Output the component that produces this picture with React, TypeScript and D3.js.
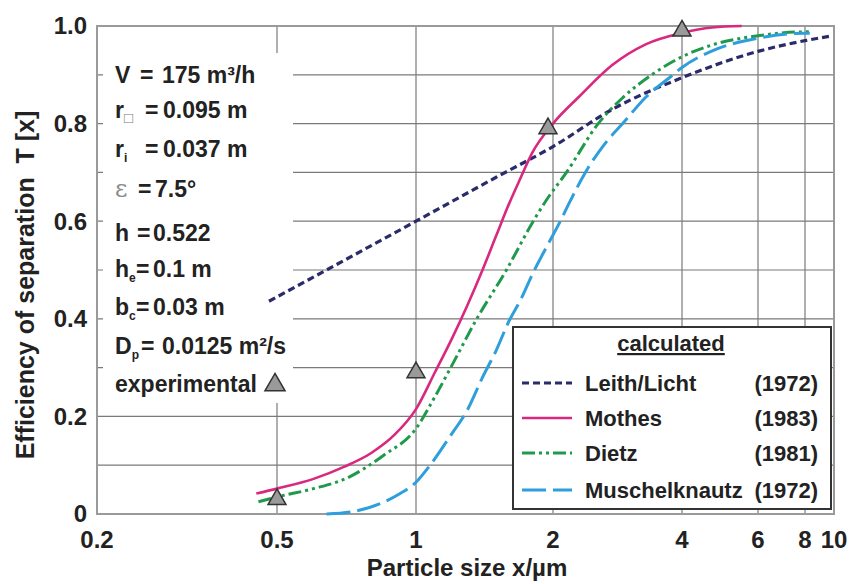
import React from 'react';
import * as d3 from 'd3';

// axis ticks
const xTicks = [0.2, 0.5, 1, 2, 4, 6, 8, 10];
const yTicks = [0, 0.2, 0.4, 0.6, 0.8, 1.0];

// calculated curves, [particle size µm, T]
const leithLicht = [
  [0.48, 0.436], [0.7, 0.52], [1, 0.6], [1.5, 0.69], [2, 0.753], [2.76, 0.83],
  [4, 0.894], [6, 0.948], [8, 0.97], [9.9, 0.98],
];
const mothes = [
  [0.45, 0.042], [0.5, 0.052], [0.6, 0.072], [0.7, 0.097], [0.8, 0.125], [0.9, 0.163],
  [1.0, 0.215], [1.1, 0.29], [1.2, 0.36], [1.3, 0.43], [1.4, 0.5], [1.5, 0.57],
  [1.6, 0.635], [1.7, 0.69], [1.8, 0.74], [2.0, 0.8], [2.3, 0.855], [2.75, 0.92],
  [3.3, 0.963], [4.0, 0.986], [4.7, 0.997], [5.5, 1.0],
];
const dietz = [
  [0.455, 0.025], [0.5, 0.035], [0.6, 0.052], [0.71, 0.074], [0.85, 0.12], [1.0, 0.175],
  [1.1, 0.24], [1.2, 0.305], [1.36, 0.4], [1.58, 0.5], [1.81, 0.6], [1.94, 0.645],
  [2.15, 0.7], [2.55, 0.8], [2.9, 0.852], [3.4, 0.9], [4, 0.937], [4.73, 0.962],
  [6, 0.98], [8, 0.988], [8.3, 0.988],
];
const muschelknautz = [
  [0.64, 0.0], [0.72, 0.004], [0.85, 0.024], [0.92, 0.041], [1.0, 0.065], [1.07, 0.098],
  [1.19, 0.16], [1.3, 0.215], [1.4, 0.28], [1.5, 0.335], [1.6, 0.395], [1.7, 0.44],
  [1.81, 0.495], [1.93, 0.545], [2.08, 0.6], [2.19, 0.64], [2.38, 0.7], [2.65, 0.76],
  [2.94, 0.805], [3.3, 0.855], [3.75, 0.895], [4, 0.915], [4.73, 0.95], [6, 0.975],
  [8, 0.985], [8.3, 0.985],
];

// experimental points
const expX = [0.5, 1, 1.95, 4];
const expT = [0.03, 0.29, 0.79, 0.99];

// legend entries
const seriesNames = ['Leith/Licht', 'Mothes', 'Dietz', 'Muschelknautz'];
const seriesYears = ['(1972)', '(1983)', '(1981)', '(1972)'];

// operating conditions box
const condLabels = ['V', 'r', 'r', 'ε', 'h', 'h', 'b', 'D', 'experimental'];
const condSubs = ['', '□', 'i', '', '', 'e', 'c', 'p', ''];
const condValues = ['175 m³/h', '0.095 m', '0.037 m', '7.5°', '0.522', '0.1 m', '0.03 m', '0.0125 m²/s', ''];

const FONT = "'Liberation Sans', Arial, Helvetica, sans-serif";

export default function App() {
  const w = 850;
  const h = 584;

  const x = d3.scaleLog()
    .domain(xTicks)
    .range([97, 277, 416, 553, 682, 758, 805, 834]);
  const y = d3.scaleLinear().domain([0, 1]).range([514, 26]);

  const line = d3.line<number[]>()
    .x(d => x(d[0]))
    .y(d => y(d[1]))
    .curve(d3.curveMonotoneX);

  const styles = [
    { color: '#2b2a6b', dash: '7 4', width: 3.2 },
    { color: '#d9287f', dash: null, width: 2.6 },
    { color: '#1f9a4c', dash: '13 4 3 4 3 4', width: 3 },
    { color: '#2e9fdb', dash: '24 7', width: 3 },
  ];
  const data = [leithLicht, mothes, dietz, muschelknautz];

  const tri = d3.symbol(d3.symbolTriangle, 140)();
  const triBig = d3.symbol(d3.symbolTriangle, 175)();

  const x0 = x.range()[0];
  const x1 = x.range()[x.range().length - 1];
  const yGrid = y.ticks(10).filter(t => t > 0 && t < 1);
  const xGrid = xTicks.slice(1, -1);

  const baselines = [83, 118, 157, 197, 241, 277, 315, 354, 392];
  const eqX = [140, 145, 145, 138, 137, 136, 136, 141];
  const valX = [162, 163, 163, 155, 153, 153, 153, 162];

  const legendRows = [383, 418, 453, 490];

  return (
    <svg width={w} height={h} style={{ position: 'absolute', left: 0, top: 0, background: '#fff' }}
      fontFamily={FONT} fontWeight="bold">
      {/* grid */}
      <g stroke="#7a7a7a" strokeWidth={1.2}>
        {yGrid.map(t => (
          <line key={'gy' + t} x1={x0} x2={x1} y1={y(t)} y2={y(t)} />
        ))}
        {xGrid.map(t => (
          <line key={'gx' + t} x1={x(t)} x2={x(t)} y1={y(0)} y2={y(1)} />
        ))}
      </g>

      {/* white panel for conditions text */}
      <rect x={103} y={53} width={190} height={350} fill="#fff" />

      <rect x={x0} y={y(1)} width={x1 - x0} height={y(0) - y(1)} fill="none" stroke="#9a9a9a" strokeWidth={2} />

      {/* axis labels */}
      <g fontSize={24} fill="#222">
        {yTicks.map(t => (
          <text key={'yl' + t} x={87} y={y(t)} dy="0.35em" textAnchor="end">
            {t === 0 ? '0' : t.toFixed(1)}
          </text>
        ))}
        {xTicks.map(t => (
          <text key={'xl' + t} x={x(t)} y={548} textAnchor="middle">{String(t)}</text>
        ))}
      </g>
      <text x={467} y={576} fontSize={24} textAnchor="middle" fill="#222">Particle size x/µm</text>
      <text transform="translate(34,285) rotate(-90)" fontSize={25} textAnchor="middle" fill="#222"
        style={{ whiteSpace: 'pre' }}>Efficiency of separation  T [x]</text>

      {/* operating conditions */}
      <g fontSize={23} fill="#222">
        {condLabels.map((lab, i) => (
          <text key={'c' + i} x={115} y={baselines[i]}>
            {lab === 'ε'
              ? <tspan fontFamily="'DejaVu Serif', serif" fontWeight="normal" fill="#8a8a8a" fontSize={24}>{lab}</tspan>
              : <tspan>{lab}</tspan>}
            {condSubs[i] && (
              <tspan fontSize={condSubs[i] === '□' ? 15 : 12} dy={5}
                fill={condSubs[i] === '□' ? '#777' : '#222'}
                fontWeight={condSubs[i] === '□' ? 'normal' : 'bold'}>{condSubs[i]}</tspan>
            )}
            {i < eqX.length && <tspan x={eqX[i]} y={baselines[i]}>=</tspan>}
            {i < valX.length && <tspan x={valX[i]} y={baselines[i]}>{condValues[i]}</tspan>}
          </text>
        ))}
      </g>
      <path d={triBig as string} transform={`translate(275,${baselines[8] - 7})`} fill="#9a9a9a" stroke="#333" strokeWidth={1.5} />

      {/* curves */}
      {data.map((d, i) => (
        <path key={'s' + i} d={line(d) as string} fill="none" stroke={styles[i].color}
          strokeWidth={styles[i].width} strokeDasharray={styles[i].dash || undefined} />
      ))}

      {/* experimental */}
      {expX.map((v, i) => (
        <path key={'e' + i} d={tri as string} transform={`translate(${x(v)},${y(expT[i])})`}
          fill="#9a9a9a" stroke="#333" strokeWidth={1.5} />
      ))}

      {/* legend */}
      <rect x={513} y={327} width={318} height={182} fill="#fff" stroke="#333" strokeWidth={2} />
      <text x={671} y={351} fontSize={22} textAnchor="middle" fill="#222" textDecoration="underline">calculated</text>
      {seriesNames.map((name, i) => (
        <g key={'lg' + i}>
          <line x1={522} x2={572} y1={legendRows[i]} y2={legendRows[i]} stroke={styles[i].color}
            strokeWidth={styles[i].width} strokeDasharray={styles[i].dash || undefined} />
          <text x={585} y={legendRows[i] + 8} fontSize={22} fill="#222">{name}</text>
          <text x={818} y={legendRows[i] + 8} fontSize={22} fill="#222" textAnchor="end">{seriesYears[i]}</text>
        </g>
      ))}
    </svg>
  );
}
